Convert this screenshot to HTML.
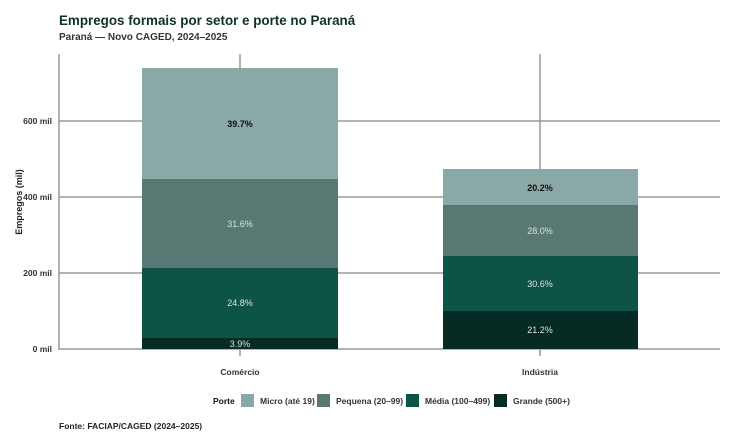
<!DOCTYPE html><html><head><meta charset="utf-8"><style>
body{margin:0;width:738px;height:443px;background:#fff;overflow:hidden;font-family:"Liberation Sans",Arial,sans-serif}
</style></head><body>
<svg width="738" height="443" xmlns="http://www.w3.org/2000/svg" font-family="Liberation Sans, Arial, sans-serif">
<text x="59" y="25" font-size="13.4" font-weight="bold" fill="#10302a">Empregos formais por setor e porte no Paraná</text>
<text x="59" y="40" font-size="10" font-weight="bold" fill="#333">Paraná — Novo CAGED, 2024–2025</text>
<g stroke="#999" stroke-width="1.5">
<line x1="59" y1="54" x2="59" y2="350"/>
<line x1="59" y1="349" x2="720" y2="349"/>
<line x1="59" y1="273" x2="720" y2="273"/>
<line x1="59" y1="197" x2="720" y2="197"/>
<line x1="59" y1="121" x2="720" y2="121"/>
<line x1="240" y1="54" x2="240" y2="356"/>
<line x1="540" y1="54" x2="540" y2="356"/>
</g>
<g font-size="8.5" font-weight="bold" fill="#333" text-anchor="end">
<text x="52" y="352">0 mil</text><text x="52" y="276">200 mil</text><text x="52" y="200">400 mil</text><text x="52" y="124">600 mil</text>
</g>
<text transform="translate(22,202) rotate(-90)" font-size="9" font-weight="bold" fill="#222" text-anchor="middle">Empregos (mil)</text>
<rect x="142" y="68" width="196" height="111" fill="#8aa8a6"/>
<rect x="142" y="179" width="196" height="89" fill="#587873"/>
<rect x="142" y="268" width="196" height="70" fill="#0e5446"/>
<rect x="142" y="338" width="196" height="11" fill="#062a24"/>
<rect x="443" y="169" width="195" height="36" fill="#8aa8a6"/>
<rect x="443" y="205" width="195" height="51" fill="#587873"/>
<rect x="443" y="256" width="195" height="55" fill="#0e5446"/>
<rect x="443" y="311" width="195" height="38" fill="#062a24"/>
<g font-size="9" text-anchor="middle">
<text x="240" y="127" font-weight="bold" fill="#111">39.7%</text>
<text x="240" y="227" fill="#d8e2e0">31.6%</text>
<text x="240" y="306" fill="#d8e2e0">24.8%</text>
<text x="240" y="347" fill="#d8e2e0">3.9%</text>
<text x="540" y="191" font-weight="bold" fill="#111">20.2%</text>
<text x="540" y="234" fill="#d8e2e0">28.0%</text>
<text x="540" y="287" fill="#d8e2e0">30.6%</text>
<text x="540" y="333" fill="#d8e2e0">21.2%</text>
</g>
<g font-size="8.5" font-weight="bold" fill="#333" text-anchor="middle">
<text x="240" y="375">Comércio</text><text x="540" y="375">Indústria</text>
</g>
<g font-size="8.5" fill="#333">
<text x="213" y="404" font-weight="bold" fill="#111">Porte</text>
<rect x="241" y="394" width="13" height="13" fill="#8aa8a6"/><text x="260" y="404" font-weight="bold">Micro (até 19)</text>
<rect x="317" y="394" width="13" height="13" fill="#587873"/><text x="336" y="404" font-weight="bold">Pequena (20–99)</text>
<rect x="406" y="394" width="13" height="13" fill="#0e5446"/><text x="425" y="404" font-weight="bold">Média (100–499)</text>
<rect x="494" y="394" width="13" height="13" fill="#062a24"/><text x="513" y="404" font-weight="bold">Grande (500+)</text>
</g>
<text x="59" y="429" font-size="8.5" font-weight="bold" fill="#222">Fonte: FACIAP/CAGED (2024–2025)</text>
</svg>
</body></html>
